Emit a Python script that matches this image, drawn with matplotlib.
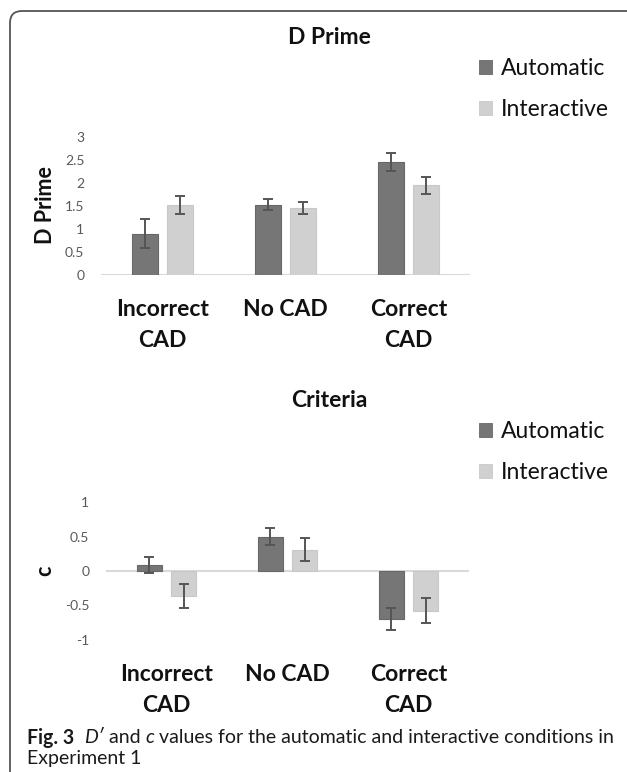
import matplotlib
matplotlib.use('Agg')
import matplotlib.pyplot as plt
import numpy as np
from matplotlib.patches import FancyBboxPatch, Patch
from matplotlib.transforms import IdentityTransform

# ---------------- data ----------------
categories = ['Incorrect\nCAD', 'No CAD', 'Correct\nCAD']
series = ['Automatic', 'Interactive']

dprime_auto = [0.90, 1.53, 2.46]
dprime_auto_err = [0.31, 0.12, 0.20]
dprime_inter = [1.52, 1.46, 1.95]
dprime_inter_err = [0.20, 0.13, 0.18]

crit_auto = [0.09, 0.50, -0.69]
crit_auto_err = [0.12, 0.12, 0.16]
crit_inter = [-0.36, 0.31, -0.575]
crit_inter_err = [0.17, 0.17, 0.18]

dprime_ticks = [0, 0.5, 1, 1.5, 2, 2.5, 3]
dprime_ticklabels = ['0', '0.5', '1', '1.5', '2', '2.5', '3']
crit_ticks = [-1, -0.5, 0, 0.5, 1]
crit_ticklabels = ['-1', '-0.5', '0', '0.5', '1']

titles = ['D Prime', 'Criteria']
ylabels = ['D Prime', 'c']

# ---------------- style ----------------
FONT = ['Lato', 'DejaVu Sans']
plt.rcParams['font.family'] = FONT
DARK = '#767676'
LIGHT = '#d0d0d0'
ERR = '#555555'

W, H = 627, 772
fig = plt.figure(figsize=(W / 100, H / 100), dpi=100)


def px_axes(l, t, r, b):
    return fig.add_axes([l / W, 1 - b / H, (r - l) / W, (b - t) / H])


def draw(ax, auto, auto_err, inter, inter_err, ticks, ticklabels, ylim):
    x = np.arange(len(categories))
    width = 0.21
    off = 0.142
    ax.bar(x - off, auto, width, color=DARK, edgecolor='#686868', lw=0.8, zorder=2)
    ax.bar(x + off, inter, width, color=LIGHT, edgecolor='#c8c8c8', lw=0.8, zorder=2)
    ax.errorbar(x - off, auto, yerr=auto_err, fmt='none', ecolor=ERR,
                elinewidth=1.4, capsize=3.6, capthick=1.4, zorder=3)
    ax.errorbar(x + off, inter, yerr=inter_err, fmt='none', ecolor=ERR,
                elinewidth=1.4, capsize=3.6, capthick=1.4, zorder=3)
    ax.axhline(0, color='#d9d9d9', lw=1.5, zorder=1)
    ax.set_xlim(-0.5, len(categories) - 0.5)
    ax.set_ylim(*ylim)
    for s in ax.spines.values():
        s.set_visible(False)
    ax.set_yticks(ticks)
    ax.set_yticklabels(ticklabels)
    ax.tick_params(axis='y', length=0, pad=12, labelsize=10, labelcolor='#595959')
    ax.set_xticks(x)
    ax.set_xticklabels(categories, fontsize=16.5, fontweight='bold', color='#111111')
    ax.tick_params(axis='x', length=0, pad=17)
    for lab in ax.get_xticklabels():
        lab.set_linespacing(1.6)
        lab.set_multialignment('center')
    ax.patch.set_alpha(0)


ax1 = px_axes(101, 137, 470, 275)
draw(ax1, dprime_auto, dprime_auto_err, dprime_inter, dprime_inter_err,
     dprime_ticks, dprime_ticklabels, (0, 3))
ax2 = px_axes(106, 502, 469, 640)
draw(ax2, crit_auto, crit_auto_err, crit_inter, crit_inter_err,
     crit_ticks, crit_ticklabels, (-1, 1))

# titles and y labels
fig.text(329 / W, 1 - 37 / H, titles[0], ha='center', va='center',
         fontsize=16.5, fontweight='bold', color='#111111')
fig.text(329 / W, 1 - 401 / H, titles[1], ha='center', va='center',
         fontsize=16.5, fontweight='bold', color='#111111')
fig.text(45 / W, 1 - 205 / H, ylabels[0], ha='center', va='center', rotation=90,
         fontsize=15.5, fontweight='bold', color='#111111')
fig.text(45 / W, 1 - 571 / H, ylabels[1], ha='center', va='center', rotation=90,
         fontsize=15.5, fontweight='bold', color='#111111')

# legends
handles = [Patch(facecolor=DARK, edgecolor='#686868', lw=0.6),
           Patch(facecolor=LIGHT, edgecolor='#c8c8c8', lw=0.6)]
for ytop in (58, 421):
    fig.legend(handles, series, loc='upper left',
               bbox_to_anchor=(479 / W, 1 - ytop / H), frameon=False,
               fontsize=16.5, handlelength=0.55, handleheight=0.55,
               handletextpad=0.4, labelspacing=0.87, borderpad=0,
               borderaxespad=0, labelcolor='#111111')

# border
border = FancyBboxPatch((10, H - 820), 660, 809,
                        boxstyle='round,pad=0,rounding_size=12',
                        transform=IdentityTransform(), fill=False,
                        ec='#555555', lw=1.3)
fig.patches.append(border)

# caption, built from pieces
renderer = fig.canvas.get_renderer()
cap_pieces = [('Fig. 3', 'bold', 'normal'), ('  ', 'normal', 'normal'),
              ('D\u2032', 'normal', 'italic'), (' and ', 'normal', 'normal'),
              ('c', 'normal', 'italic'),
              (' values for the automatic and interactive conditions in', 'normal', 'normal')]


def place_line(pieces, x0, ycen, size):
    x = x0
    made = []
    for txt, wt, st in pieces:
        t = fig.text(x / W, 1 - ycen / H, txt, ha='left', va='center_baseline',
                     fontsize=size, fontweight=wt, fontstyle=st, color='#1a1a1a')
        made.append(t)
        bb = t.get_window_extent(renderer)
        x = bb.x1
    return x, made


# fit font size so that line spans from 27 to 612 px
size = 12.0
xend, made = place_line(cap_pieces, 27, 736, size)
for t in made:
    t.remove()
size = size * (612 - 27) / (xend - 27)
place_line(cap_pieces, 27, 736, size)
place_line([('Experiment 1', 'normal', 'normal')], 27, 757, size)

fig.savefig('out.png', dpi=100)
